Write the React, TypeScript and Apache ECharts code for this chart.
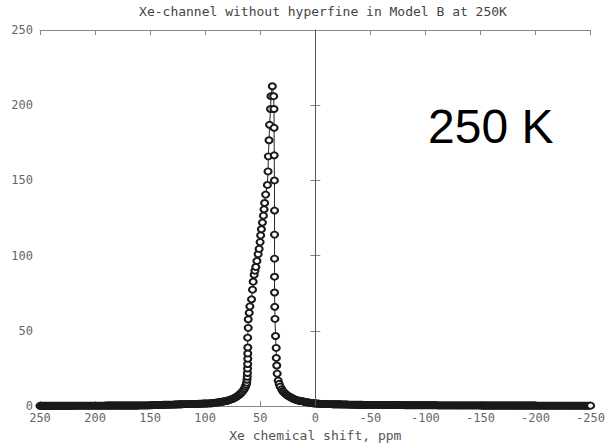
import React, { useEffect, useRef } from "react";
import * as echarts from "echarts";

const titleText = "Xe-channel without hyperfine in Model B at 250K";
const xAxisName = "Xe chemical shift, ppm";
const annotation = "250 K";

// [ppm, intensity] — far low-field tail
const leftTail: number[][] = [
  [250, .2], [249, .2], [248, .2], [247, .2], [246, .2], [245, .2], [244, .2], [243, .2], [242, .2], [241, .2],
  [240, .2], [239, .2], [238, .2], [237, .2], [236, .2], [235, .2], [234, .2], [233, .2], [232, .2], [231, .2],
  [230, .2], [229, .2], [228, .2], [227, .2], [226, .2], [225, .2], [224, .2], [223, .2], [222, .2], [221, .2],
  [220, .3], [219, .3], [218, .3], [217, .3], [216, .3], [215, .3], [214, .3], [213, .3], [212, .3], [211, .3],
  [210, .3], [209, .3], [208, .3], [207, .3], [206, .3], [205, .3], [204, .3], [203, .3], [202, .3], [201, .3],
  [200, .3], [199, .3], [198, .3], [197, .3], [196, .3], [195, .3], [194, .3], [193, .3], [192, .3], [191, .3],
  [190, .4], [189, .4], [188, .4], [187, .4], [186, .4], [185, .4], [184, .4], [183, .4], [182, .4], [181, .4],
  [180, .4], [179, .4], [178, .4], [177, .4], [176, .4], [175, .4], [174, .4], [173, .4], [172, .4], [171, .4],
  [170, .4], [169, .4], [168, .4], [167, .4], [166, .4], [165, .4], [164, .4], [163, .4], [162, .4], [161, .4],
  [160, .5], [159, .5], [158, .5], [157, .5], [156, .5], [155, .5], [154, .5], [153, .5], [152, .5], [151, .5],
  [150, .6], [149, .6], [148, .6], [147, .7], [146, .7], [145, .7], [144, .7], [143, .8], [142, .8], [141, .8],
  [140, .8], [139, .8], [138, .9], [137, .9], [136, .9], [135, .9], [134, 1], [133, 1], [132, 1], [131, 1],
  [130, 1], [129, 1], [128, 1.1], [127, 1.1], [126, 1.1], [125, 1.1], [124, 1.2], [123, 1.2], [122, 1.2], [121, 1.2],
  [120, 1.3], [119, 1.3], [118, 1.3], [117, 1.3],
  [116, 1.3], [115, 1.3], [114, 1.4], [113, 1.4], [112, 1.4], [111, 1.4], [110, 1.5], [109, 1.5], [108, 1.5], [107, 1.5],
  [106, 1.6], [105, 1.6], [104, 1.6], [103, 1.6], [102, 1.7], [101, 1.7], [100, 1.7], [99, 1.7], [98, 1.8], [97, 1.8],
  [96, 1.8],
];

// rising (low-field) side of the peak
const leftBranch: number[][] = [
  [95, 1.9], [94, 1.9], [93, 2.0], [92, 2.1], [91, 2.2], [90, 2.3], [89, 2.4], [88, 2.5], [87, 2.6], [86, 2.8],
  [85, 2.9], [84, 3.0], [83, 3.1], [82, 3.3], [81, 3.4], [80, 3.6], [79, 3.8], [78, 4.1], [77, 4.3], [76, 4.6],
  [75, 4.9], [74, 5.2], [73, 5.6], [72, 6.0], [71, 6.5], [70, 7.0], [69, 7.6], [68, 8.2], [67, 9.0], [66, 9.8],
  [65, 10.8], [64.2, 11.8], [63.5, 12.9], [62.8, 14.2], [62.3, 15.6], [62, 17.5],
  [61.8, 19.5], [61.6, 22], [61.5, 25], [61.4, 28], [61.3, 31.5], [61.3, 35], [61.3, 39],
  [61.4, 45.5], [60.9, 52], [60.9, 57.7], [60, 62], [59.4, 66.3], [57.9, 71], [57, 77.4],
  [56.4, 82.7], [55.5, 87.3], [54.8, 90], [54, 92.5], [53, 96.5], [51.9, 101], [51, 104.5],
  [50.1, 109], [49.6, 113.5], [48.9, 117.6], [48, 122], [47.1, 126.6], [46.5, 130.8], [46, 135],
  [45.1, 140.6], [43.5, 147], [42.9, 156], [42.6, 166], [42, 176.7], [41.5, 187], [40.6, 197.5],
  [40.2, 206], [39, 212.6],
];

// falling (high-field) side of the peak
const rightBranch: number[][] = [
  [37.8, 206], [37.5, 197.5], [37.4, 185], [37.3, 166.7], [37.1, 150], [37, 130], [37, 114],
  [37, 98], [37, 86], [37, 75.5], [36.8, 66], [36.6, 58], [36.1, 46.6], [35.5, 38.7], [35.4, 32],
  [35, 27], [34.6, 21.6], [33.7, 17], [32.8, 14.8], [31.9, 13], [30.5, 11.2], [29.5, 10.0],
  [29, 9.6], [28, 8.8], [27, 8.1], [26, 7.5], [25, 7.0], [24, 6.5], [23, 6.1], [22, 5.7], [21, 5.3],
  [20, 4.9], [19, 4.6], [18, 4.3], [17, 4.0], [16, 3.8], [15, 3.65], [14, 3.5], [13, 3.4], [12, 3.3],
  [11, 3.1], [10, 2.9], [9, 2.8], [8, 2.6], [7, 2.5], [6, 2.4], [5, 2.2], [4, 2.1], [3, 2.0], [2, 1.9],
  [1, 1.85],
];

// far high-field tail
const rightTail: number[][] = [
  [0, 1.8], [-1, 1.7], [-2, 1.7], [-3, 1.6], [-4, 1.6], [-5, 1.5], [-6, 1.5], [-7, 1.5], [-8, 1.4], [-9, 1.4],
  [-10, 1.4], [-11, 1.3], [-12, 1.3], [-13, 1.3], [-14, 1.3], [-15, 1.3], [-16, 1.2], [-17, 1.2], [-18, 1.2], [-19, 1.2],
  [-20, 1.2], [-21, 1.2], [-22, 1.2], [-23, 1.2], [-24, 1.1], [-25, 1.1], [-26, 1.1], [-27, 1.1], [-28, 1.1], [-29, 1.1],
  [-30, 1.0], [-31, 1.0], [-32, 1.0], [-33, 1.0], [-34, 1.0], [-35, 1.0], [-36, .9], [-37, .9], [-38, .9], [-39, .9],
  [-40, .9], [-41, .9], [-42, .9], [-43, .9], [-44, .8], [-45, .8], [-46, .8], [-47, .8], [-48, .8], [-49, .8],
  [-50, .8], [-51, .8], [-52, .8], [-53, .8], [-54, .8], [-55, .8], [-56, .8], [-57, .8], [-58, .8], [-59, .8],
  [-60, .8], [-61, .7], [-62, .7], [-63, .7], [-64, .7], [-65, .7], [-66, .7], [-67, .7], [-68, .7], [-69, .7],
  [-70, .7], [-71, .7], [-72, .7], [-73, .7], [-74, .7], [-75, .7], [-76, .7], [-77, .7], [-78, .7], [-79, .7],
  [-80, .7], [-81, .6], [-82, .6], [-83, .6], [-84, .6], [-85, .6], [-86, .6], [-87, .6], [-88, .6], [-89, .6],
  [-90, .6], [-91, .6], [-92, .6], [-93, .6], [-94, .6], [-95, .6], [-96, .6], [-97, .6], [-98, .6], [-99, .6],
  [-100, .6], [-101, .6], [-102, .6], [-103, .6], [-104, .6], [-105, .6], [-106, .6], [-107, .6], [-108, .6], [-109, .6],
  [-110, .6], [-111, .5], [-112, .5], [-113, .5], [-114, .5], [-115, .5], [-116, .5], [-117, .5], [-118, .5], [-119, .5],
  [-120, .5], [-121, .5], [-122, .5], [-123, .5], [-124, .5], [-125, .5], [-126, .5], [-127, .5], [-128, .5], [-129, .5],
  [-130, .5], [-131, .5], [-132, .5], [-133, .5], [-134, .5], [-135, .5], [-136, .5], [-137, .5], [-138, .5], [-139, .5],
  [-140, .5], [-141, .5], [-142, .5], [-143, .5], [-144, .5], [-145, .5], [-146, .5], [-147, .5], [-148, .5], [-149, .5],
  [-150, .5], [-151, .4], [-152, .4], [-153, .4], [-154, .4], [-155, .4], [-156, .4], [-157, .4], [-158, .4], [-159, .4],
  [-160, .4], [-161, .4], [-162, .4], [-163, .4], [-164, .4], [-165, .4], [-166, .4], [-167, .4], [-168, .4], [-169, .4],
  [-170, .4], [-171, .4], [-172, .4], [-173, .4], [-174, .4], [-175, .4], [-176, .4], [-177, .4], [-178, .4], [-179, .4],
  [-180, .4], [-181, .4], [-182, .4], [-183, .4], [-184, .4], [-185, .4], [-186, .4], [-187, .4], [-188, .4], [-189, .4],
  [-190, .4], [-191, .4], [-192, .4], [-193, .4], [-194, .4], [-195, .4], [-196, .4], [-197, .4], [-198, .4], [-199, .4],
  [-200, .4], [-201, .3], [-202, .3], [-203, .3], [-204, .3], [-205, .3], [-206, .3], [-207, .3], [-208, .3], [-209, .3],
  [-210, .3], [-211, .3], [-212, .3], [-213, .3], [-214, .3], [-215, .3], [-216, .3], [-217, .3], [-218, .3], [-219, .3],
  [-220, .3], [-221, .3], [-222, .3], [-223, .3], [-224, .3], [-225, .3], [-226, .3], [-227, .3], [-228, .3], [-229, .3],
  [-230, .3], [-231, .3], [-232, .3], [-233, .3], [-234, .3], [-235, .3], [-236, .3], [-237, .3], [-238, .3], [-239, .3],
  [-240, .3], [-241, .3], [-242, .3], [-243, .3], [-244, .3], [-245, .3], [-246, .3], [-247, .3], [-248, .3], [-249, .3],
  [-250, .3],
];

const spectrum = [...leftTail, ...leftBranch, ...rightBranch, ...rightTail];

const MONO = '"DejaVu Sans Mono", "Liberation Mono", monospace';
const AXIS_COLOR = "#888";
const LABEL_COLOR = "#666";

export default function App() {
  const ref = useRef<HTMLDivElement>(null);

  useEffect(() => {
    if (!ref.current) return;
    const chart = echarts.init(ref.current, null, { renderer: "svg" });

    const xCommon = {
      type: "value" as const,
      min: -250,
      max: 250,
      interval: 50,
      inverse: true,
      splitLine: { show: false },
      axisLine: { show: true, onZero: false, lineStyle: { color: AXIS_COLOR, width: 1 } },
      axisTick: { show: true, inside: true, length: 5, lineStyle: { color: AXIS_COLOR } },
    };
    const yCommon = {
      type: "value" as const,
      min: 0,
      max: 250,
      interval: 50,
      splitLine: { show: false },
      axisLine: { show: true, lineStyle: { color: AXIS_COLOR, width: 1 } },
      axisTick: { show: true, inside: true, length: 5, lineStyle: { color: AXIS_COLOR } },
    };

    chart.setOption({
      animation: false,
      backgroundColor: "#fff",
      title: {
        text: titleText,
        left: 318,
        textAlign: "center",
        top: 0,
        textStyle: { fontFamily: MONO, fontSize: 13, fontWeight: "normal", color: "#444" },
      },
      grid: { left: 40, right: 12, top: 30, bottom: 33 },
      xAxis: [
        {
          ...xCommon,
          position: "bottom",
          name: xAxisName,
          nameLocation: "middle",
          nameGap: 22,
          nameTextStyle: { fontFamily: MONO, fontSize: 13, color: "#555" },
          axisLabel: {
            show: true,
            margin: 6,
            fontFamily: MONO,
            fontSize: 12,
            color: LABEL_COLOR,
            showMinLabel: true,
            showMaxLabel: true,
          },
        },
        { ...xCommon, position: "top", axisLabel: { show: false } },
      ],
      yAxis: [
        {
          ...yCommon,
          position: "left",
          axisLabel: { show: true, margin: 7, fontFamily: MONO, fontSize: 12, color: LABEL_COLOR },
        },
        { ...yCommon, position: "right", axisLabel: { show: false } },
      ],
      graphic: [
        {
          type: "text",
          left: 428,
          top: 102,
          style: {
            text: annotation,
            fontFamily: '"Liberation Sans", Arial, sans-serif',
            fontSize: 48,
            fill: "#000",
          },
        },
      ],
      series: [
        {
          type: "line",
          data: spectrum,
          xAxisIndex: 0,
          yAxisIndex: 0,
          showSymbol: true,
          showAllSymbol: true,
          symbol: "emptyCircle",
          symbolSize: [7, 6],
          lineStyle: { color: "#222", width: 1 },
          itemStyle: { color: "#1a1a1a", borderColor: "#1a1a1a", borderWidth: 1.2 },
          markLine: {
            silent: true,
            symbol: "none",
            label: { show: false },
            lineStyle: { color: "#555", width: 1, type: "solid" },
            data: [{ xAxis: 0 }],
          },
          z: 3,
        },
      ],
    });

    return () => chart.dispose();
  }, []);

  return <div ref={ref} style={{ width: 608, height: 447, position: "absolute", left: 0, top: 0 }} />;
}
